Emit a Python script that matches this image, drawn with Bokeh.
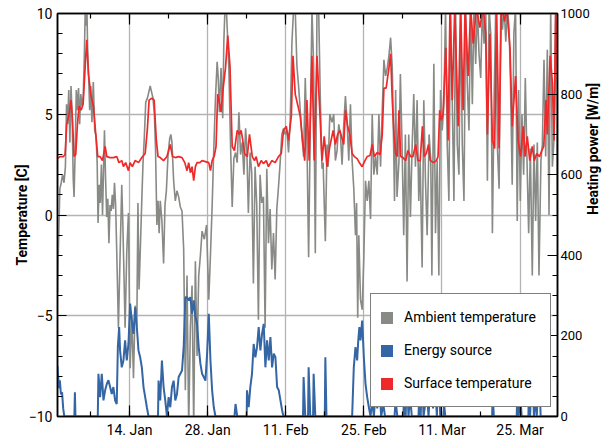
import math
import pandas as pd
from bokeh.plotting import figure
from bokeh.models import (Range1d, LinearAxis, DatetimeAxis, FixedTicker,
                          DatetimeTickFormatter, CustomJSTickFormatter,
                          Legend, LegendItem)
from bokeh.embed import file_html
from bokeh.resources import INLINE

# ---------------- data (days after 1 Jan 2019) ----------------
START = "2019-01-01"
X_START_DAY = 0.08
X_END_DAY = 89.72

AMB_DAY = [
    0.08, 0.3, 0.5, 0.75, 1.0, 1.25, 1.5, 1.7, 1.9, 2.1,
    2.3, 2.5, 2.7, 2.9, 3.05, 3.25, 3.45, 3.65, 3.85, 4.05,
    4.25, 4.5, 4.7, 4.9, 5.05, 5.2, 5.35, 5.5, 5.65, 5.85,
    6.05, 6.25, 6.5, 6.75, 7.0, 7.2, 7.35, 7.55, 7.75, 7.95,
    8.15, 8.5, 8.7, 8.9, 9.1, 9.3, 9.5, 9.7, 9.9, 10.1,
    10.3, 10.5, 10.7, 11.0, 11.3, 11.6, 11.8, 12.0, 12.2, 12.5,
    12.8, 13.1, 13.4, 13.7, 14.0, 14.3, 14.5, 14.7, 14.95, 15.2,
    15.4, 15.65, 15.9, 16.2, 16.45, 16.7, 16.95, 17.2, 17.45, 17.65,
    17.9, 18.1, 18.3, 18.5, 18.8, 19.1, 19.35, 19.6, 19.9, 20.2,
    20.4, 20.6, 20.9, 21.2, 21.5, 21.8, 22.1, 22.4, 22.7, 23.0,
    23.3, 23.6, 23.9, 24.2, 24.5, 24.8, 25.1, 25.4, 25.7, 26.0,
    26.4, 26.8, 27.2, 27.5, 27.8, 28.1, 28.4, 28.7, 28.9, 29.1,
    29.4, 29.7, 29.9, 30.1, 30.35, 30.55, 30.8, 31.1, 31.4, 31.7,
    32.0, 32.3, 32.6, 32.9, 33.2, 33.5, 33.8, 34.0, 34.3, 34.6,
    34.9, 35.2, 35.5, 35.8, 36.1, 36.4, 36.7, 37.0, 37.3, 37.6,
    37.9, 38.2, 38.5, 38.8, 39.1, 39.4, 39.7, 40.0, 40.3, 40.6,
    40.9, 41.2, 41.5, 41.8, 42.1, 42.4, 42.7, 43.0, 43.3, 43.6,
    43.9, 44.2, 44.5, 44.8, 45.1, 45.4, 45.7, 46.0, 46.3, 46.6,
    46.9, 47.2, 47.5, 47.7, 47.9, 48.1, 48.4, 48.6, 48.9, 49.3,
    49.6, 49.9, 50.2, 50.5, 50.8, 51.1, 51.4, 51.7, 52.0, 52.3,
    52.6, 52.9, 53.2, 53.5, 53.7, 53.9, 54.1, 54.4, 54.7, 55.0,
    55.3, 55.6, 55.9, 56.2, 56.5, 56.8, 57.1, 57.4, 57.7, 58.0,
    58.3, 58.6, 58.9, 59.2, 59.5, 59.8, 60.1, 60.35, 60.5, 60.7,
    60.95, 61.3, 61.55, 61.85, 62.15, 62.45, 62.75, 63.05, 63.35, 63.65,
    63.95, 64.25, 64.55, 64.85, 65.1, 65.45, 65.75, 66.05, 66.35, 66.7,
    67.0, 67.2, 67.55, 67.85, 68.15, 68.45, 68.75, 69.05, 69.35, 69.65,
    69.95, 70.25, 70.55, 70.85, 71.15, 71.45, 71.75, 72.05, 72.35, 72.65,
    72.95, 73.25, 73.55, 73.85, 74.15, 74.45, 74.75, 75.05, 75.35, 75.65,
    75.95, 76.25, 76.55, 76.85, 77.15, 77.45, 77.75, 78.05, 78.35, 78.65,
    78.95, 79.25, 79.55, 79.85, 80.15, 80.45, 80.75, 81.05, 81.3, 81.6,
    81.9, 82.2, 82.5, 82.75, 83.05, 83.35, 83.65, 83.95, 84.25, 84.55,
    84.85, 85.2, 85.5, 85.8, 86.1, 86.4, 86.75, 87.0, 87.3, 87.6,
    87.9, 88.2, 88.5, 88.8, 89.1, 89.4, 89.72,
]
AMB_TEMP = [
    -3.8, -1.0, 1.3, 1.6, 2.0, 1.6, 2.4, 5.5, 4.5, 6.2,
    3.6, 6.4, 5.0, 1.8, 0.9, 3.2, 6.2, 5.2, 6.3, 4.5,
    6.0, 5.4, 5.9, 8.0, 10.2, 9.4, 10.3, 8.0, 7.0, 5.2,
    6.4, 4.6, 6.6, 4.2, 3.9, 2.5, -0.4, 1.5, 0.6, 2.5,
    0.0, 4.2, 1.8, -0.1, 0.8, -1.4, 0.5, 0.2, 1.0, 0.3,
    1.6, 0.5, -1.8, -5.6, -2.0, 1.5, -0.5, -3.0, -5.6, -1.8,
    0.1, -7.6, -5.0, -8.1, -4.5, -5.5, 0.6, -3.7, -1.5, 0.8,
    2.5, 3.9, 5.6, 5.8, 6.1, 6.4, 6.1, 5.8, 5.0, 3.3,
    -0.5, 0.7, -0.9, 0.7, -0.3, -2.4, 0.5, 1.2, 3.0, 3.8,
    4.0, 3.6, 1.7, 0.7, 1.2, 0.9, 0.4, 0.2, -1.7, -8.7,
    -3.0, -10.5, -5.6, -3.5, -10.5, -2.3, -7.0, -3.0, -2.0, -0.8,
    -1.2, -0.5, -4.2, -2.0, 0.4, 3.3, 5.8, 7.6, 6.8, 5.1,
    7.3, 4.8, 8.6, 10.2, 10.2, 9.0, 7.3, 3.5, 0.4, 2.8,
    3.1, 2.6, 5.1, 3.0, 3.6, 2.0, 4.3, 3.5, 0.1, 3.1,
    2.1, -3.4, 2.4, 0.5, -5.2, 2.0, 0.6, 0.9, -5.6, 2.3,
    -1.4, 0.3, -2.7, -0.9, -3.2, 0.3, 1.4, 2.6, 4.0, 4.3,
    4.0, 4.2, 3.1, 4.7, 8.5, 10.2, 10.2, 7.4, 6.4, 5.2,
    4.0, 2.9, 6.8, 3.7, -2.1, 4.4, 10.2, 7.4, -1.9, 10.2,
    10.2, 5.7, 2.3, 2.6, 0.6, -1.3, 3.5, 2.4, 5.0, 4.6,
    5.0, 2.7, 3.2, 4.5, 4.0, 2.5, 4.5, 5.9, 4.6, 2.7,
    5.5, 2.7, 1.3, -1.0, 0.6, -5.1, -1.0, -4.2, -4.7, -2.1,
    1.7, 0.7, 1.7, -0.2, 5.0, 2.0, 2.9, 2.0, 5.0, 2.4,
    5.2, 7.7, 6.9, 7.3, 7.9, 8.8, 7.3, 3.3, 0.7, 6.2,
    0.9, 2.7, 7.0, 3.5, -1.0, 4.0, -3.3, 4.0, -0.1, 3.3,
    6.0, 2.4, 5.7, 0.7, 2.7, -2.6, 5.7, 1.7, -1.0, 4.0,
    2.7, -3.0, 7.5, -0.9, 2.7, -3.0, 6.2, 4.2, 5.5, 10.3,
    3.5, 0.7, 10.3, 5.7, 0.7, 10.3, 3.5, 2.0, 10.3, 3.5,
    0.7, 10.3, 6.5, 4.2, 10.3, 5.5, 10.3, 7.5, 10.3, 8.0,
    6.8, 10.3, 8.5, 10.3, 1.7, 10.3, 9.0, -0.9, 5.7, 10.3,
    3.3, 1.3, 10.3, 9.2, 10.3, 8.6, 10.3, 9.2, 6.5, 1.5,
    9.0, 10.3, -0.3, 6.2, 0.7, 5.0, 2.0, 6.8, 2.7, -0.9,
    3.3, -3.0, 3.5, -0.3, 3.6, -3.0, 2.7, 3.5, 7.7, 2.9,
    8.2, 0.0, 10.3, 2.4, 3.8, 10.3, -0.3,
]

SURF_DAY = [
    0.08, 0.5, 1.14, 1.44, 1.73, 2.15, 2.51, 2.75, 3.05, 3.35,
    3.65, 3.95, 4.31, 4.67, 5.03, 5.32, 5.62, 6.1, 6.52, 6.94,
    7.3, 7.72, 8.14, 8.62, 8.92, 9.51, 10.1, 10.7, 11.1, 11.6,
    11.9, 12.3, 12.8, 13.1, 13.5, 14.0, 14.6, 15.2, 15.8, 16.2,
    16.5, 17.0, 17.4, 17.8, 18.1, 18.5, 19.1, 19.7, 20.3, 20.7,
    21.2, 21.8, 22.4, 22.9, 23.3, 23.6, 23.9, 24.2, 24.5, 24.8,
    25.1, 25.6, 26.0, 26.6, 27.2, 27.5, 27.8, 28.2, 28.5, 28.8,
    29.1, 29.4, 29.7, 30.2, 30.6, 31.0, 31.4, 31.8, 32.3, 32.7,
    33.0, 33.3, 33.6, 34.1, 34.5, 35.0, 35.4, 35.7, 36.1, 36.6,
    37.0, 37.5, 37.9, 38.5, 39.1, 39.7, 40.2, 40.6, 41.1, 41.5,
    42.0, 42.3, 42.7, 43.2, 43.6, 44.0, 44.4, 44.8, 45.2, 45.7,
    46.1, 46.6, 47.1, 47.5, 47.9, 48.4, 48.9, 49.5, 49.9, 50.3,
    50.7, 51.0, 51.4, 51.7, 52.1, 52.5, 52.9, 53.3, 53.8, 54.3,
    54.7, 55.2, 55.6, 56.1, 56.5, 56.9, 57.4, 57.9, 58.3, 58.6,
    59.0, 59.5, 59.8, 60.1, 60.4, 60.7, 61.0, 61.3, 61.6, 62.0,
    62.5, 62.9, 63.4, 63.8, 64.3, 64.7, 65.1, 65.5, 65.8, 66.2,
    66.6, 66.9, 67.5, 68.0, 68.3, 68.6, 68.9, 69.2, 69.7, 70.1,
    70.45, 70.85, 71.3, 71.9, 72.35, 72.8, 73.15, 73.7, 74.15, 74.6,
    75.2, 75.8, 76.4, 76.85, 77.15, 77.6, 78.05, 78.45, 78.8, 79.25,
    79.65, 80.25, 80.6, 81.2, 81.6, 82.2, 82.65, 83.1, 83.6, 83.9,
    84.3, 84.75, 85.2, 85.55, 86.0, 86.5, 86.9, 87.25, 87.65, 87.9,
    88.4, 88.8, 89.1, 89.4, 89.72,
]
SURF_TEMP = [
    2.8, 2.9, 2.9, 3.0, 4.5, 5.0, 5.7, 4.8, 2.9, 3.0,
    4.5, 5.4, 5.2, 5.5, 7.3, 8.7, 7.0, 5.9, 5.4, 4.0,
    2.9, 2.9, 2.7, 3.4, 2.9, 2.85, 2.85, 2.9, 2.6, 2.7,
    2.4, 2.6, 2.2, 2.6, 2.4, 2.7, 2.6, 2.85, 3.05, 4.3,
    5.7, 5.8, 5.7, 3.7, 2.9, 2.85, 2.7, 2.9, 3.5, 2.9,
    2.85, 2.9, 2.85, 2.6, 2.2, 2.6, 2.1, 2.4, 1.7, 2.4,
    2.6, 2.6, 2.7, 2.65, 2.6, 2.2, 2.7, 2.95, 3.4, 6.0,
    5.6, 5.1, 6.1, 7.3, 8.9, 7.4, 3.4, 3.2, 4.2, 4.0,
    4.2, 3.7, 3.05, 2.9, 4.0, 2.9, 2.7, 2.9, 2.4, 2.7,
    2.55, 2.7, 2.4, 2.7, 2.6, 2.9, 3.05, 4.2, 4.4, 3.7,
    4.9, 7.9, 6.0, 5.4, 4.9, 3.7, 2.7, 5.7, 2.7, 7.9,
    2.7, 7.9, 5.2, 2.7, 3.9, 2.4, 3.4, 4.2, 3.5, 4.0,
    4.2, 3.9, 3.5, 5.2, 4.4, 4.0, 3.05, 2.9, 2.8, 2.55,
    2.4, 2.7, 2.9, 2.95, 3.5, 2.9, 3.1, 3.0, 4.0, 6.3,
    6.3, 7.3, 8.0, 5.7, 4.0, 3.05, 2.9, 5.2, 2.9, 2.85,
    2.7, 3.2, 2.9, 2.9, 3.5, 2.7, 2.7, 4.4, 2.9, 3.05,
    3.5, 2.7, 2.6, 2.7, 2.9, 5.2, 4.7, 5.0, 8.3, 3.7,
    10.3, 5.7, 10.3, 4.4, 10.3, 5.2, 10.3, 6.9, 10.3, 8.5,
    10.3, 9.3, 10.3, 9.0, 4.0, 9.0, 3.7, 3.3, 10.3, 3.3,
    10.3, 9.6, 10.3, 8.3, 4.4, 6.9, 3.7, 2.9, 4.4, 2.9,
    3.9, 2.7, 3.4, 2.7, 3.05, 2.9, 3.2, 3.4, 5.7, 4.0,
    7.9, 6.6, 3.7, 10.3, 6.6,
]

SRC_DAY = [
    0.08, 0.2, 0.35, 0.5, 0.7, 0.9, 1.1, 1.3, 3.1, 3.2,
    3.3, 7.3, 7.42, 7.72, 8.02, 8.32, 8.62, 8.9, 9.21, 9.51,
    9.81, 10.1, 10.4, 10.7, 10.9, 11.13, 11.3, 11.6, 11.9, 12.2,
    12.5, 12.8, 13.1, 13.4, 13.7, 14.0, 14.3, 14.6, 14.9, 15.2,
    15.5, 15.8, 16.1, 16.4, 18.1, 18.2, 18.5, 18.8, 19.1, 19.4,
    19.7, 20.0, 20.3, 20.6, 20.9, 21.2, 21.5, 21.8, 22.1, 22.4,
    22.7, 23.0, 23.3, 23.6, 23.9, 24.2, 24.5, 24.8, 25.1, 25.4,
    25.7, 26.0, 26.3, 26.6, 26.9, 27.2, 27.5, 27.8, 28.1, 28.4,
    31.8, 32.0, 32.3, 34.0, 34.05, 34.35, 34.65, 34.95, 35.25, 35.55,
    35.85, 36.15, 36.45, 36.75, 37.05, 37.35, 37.65, 37.95, 38.25, 38.55,
    38.85, 39.15, 39.45, 39.75, 40.05, 40.35, 40.6, 44.1, 44.2, 44.5,
    45.0, 45.1, 45.4, 45.9, 46.0, 46.3, 48.0, 48.1, 48.3, 52.9,
    53.0, 53.2, 53.5, 53.8, 54.0, 54.2, 54.4, 54.7, 55.0, 55.3,
    55.6, 55.9, 56.2, 56.5, 56.8, 57.1, 57.4, 57.8, 58.1, 58.5,
    58.8, 60.5, 60.7, 61.0, 62.1, 62.2, 62.5, 62.7, 63.0, 63.3,
    63.6, 64.8, 64.9, 65.2, 65.4, 65.7, 66.3, 66.6, 67.1, 67.4,
    67.8, 68.1, 68.4, 68.7, 69.3, 69.4, 69.6, 78.0, 78.1, 78.3,
    82.4, 82.5, 82.7, 83.1, 83.3, 84.5, 84.6, 84.8, 85.2, 85.5,
    85.8, 86.0, 86.4, 86.7, 89.72,
]
SRC_POWER = [
    125, 100, 70, 90, 55, 60, 20, 0, 0, 60,
    0, 0, 106, 48, 106, 40, 65, 80, 90, 73,
    56, 73, 40, 31, 172, 222, 164, 122, 139, 189,
    139, 180, 280, 238, 205, 271, 222, 164, 147, 122,
    73, 48, 23, 0, 0, 89, 40, 139, 73, 40,
    0, 48, 23, 73, 89, 40, 56, 98, 106, 114,
    172, 296, 296, 288, 296, 255, 288, 247, 230, 172,
    131, 106, 98, 89, 156, 255, 139, 65, 23, 0,
    0, 31, 0, 0, 65, 23, 73, 106, 180, 147,
    172, 222, 164, 205, 230, 122, 189, 139, 197, 122,
    156, 147, 73, 65, 40, 15, 0, 0, 98, 0,
    0, 122, 0, 0, 106, 0, 0, 147, 0, 0,
    40, 122, 172, 139, 189, 222, 189, 238, 147, 81,
    48, 23, 0, 40, 0, 60, 20, 80, 0, 30,
    0, 0, 40, 0, 0, 60, 0, 110, 0, 50,
    0, 0, 40, 0, 120, 0, 60, 0, 130, 20,
    70, 0, 130, 0, 0, 30, 0, 0, 60, 0,
    0, 50, 0, 40, 0, 0, 70, 0, 130, 0,
    50, 0, 130, 0, 0,
]

X_MAJOR_TICKS = ["2019-01-14", "2019-01-28", "2019-02-11",
                 "2019-02-25", "2019-03-11", "2019-03-25"]
X_MINOR_TICKS = ["2019-01-07", "2019-01-14", "2019-01-21", "2019-01-28",
                 "2019-02-04", "2019-02-11", "2019-02-18", "2019-02-25",
                 "2019-03-04", "2019-03-11", "2019-03-18", "2019-03-25"]
TEMP_TICKS = [-10, -5, 0, 5, 10]
TEMP_MINOR = list(range(-10, 11))
POWER_TICKS = [0, 200, 400, 600, 800, 1000]
POWER_MINOR = list(range(0, 1001, 50))

LABELS = ["Ambient temperature", "Energy source", "Surface temperature"]
Y_LABEL_LEFT = "Temperature [C]"
Y_LABEL_RIGHT = "Heating power [W/m]"
GRAY, BLUE, RED = "#888a85", "#3465a4", "#ef2929"
FONT = "Roboto"

# ---------------- helpers ----------------
base = pd.Timestamp(START)


def to_dt(days):
    return base + pd.to_timedelta(pd.Series(days, dtype=float), unit="D")


def ms(dates):
    return [pd.Timestamp(d).value / 1e6 for d in dates]


amb_x = to_dt(AMB_DAY)
surf_x = to_dt(SURF_DAY)
src_x = to_dt(SRC_DAY)

W, H = 613, 440
FL, FR, FT, FB = 57, 557, 13, 416   # frame edges in canvas pixels

p = figure(width=W, height=H, x_axis_type="datetime",
           x_range=Range1d(base + pd.Timedelta(days=X_START_DAY),
                           base + pd.Timedelta(days=X_END_DAY)),
           y_range=Range1d(-10, 10),
           output_backend="svg", toolbar_location=None,
           min_border_left=FL, min_border_right=W - FR,
           min_border_top=FT, min_border_bottom=H - FB)
p.extra_y_ranges = {"power": Range1d(0, 1000)}
p.background_fill_color = "white"
p.border_fill_color = "white"
p.outline_line_color = "black"
p.outline_line_width = 1.5

x_ticker = FixedTicker(ticks=ms(X_MAJOR_TICKS), minor_ticks=ms(X_MINOR_TICKS))
fmt_str = "%d. %b"
x_fmt = DatetimeTickFormatter(microseconds=fmt_str, milliseconds=fmt_str,
                              seconds=fmt_str, minsec=fmt_str, minutes=fmt_str,
                              hourmin=fmt_str, hours=fmt_str, days=fmt_str,
                              months=fmt_str, years=fmt_str)
t_ticker = FixedTicker(ticks=TEMP_TICKS, minor_ticks=TEMP_MINOR)
p_ticker = FixedTicker(ticks=POWER_TICKS, minor_ticks=POWER_MINOR)


def style_axis(ax, major_in, minor_in):
    ax.major_tick_in = major_in
    ax.major_tick_out = 0
    ax.minor_tick_in = minor_in
    ax.minor_tick_out = 0
    ax.axis_line_color = "black"
    ax.axis_line_width = 1.5
    ax.major_tick_line_color = "black"
    ax.minor_tick_line_color = "black"
    ax.major_tick_line_width = 1.2
    ax.minor_tick_line_width = 1.2
    ax.major_label_text_font = FONT
    ax.major_label_text_font_size = "14px"
    ax.major_label_text_color = "black"
    ax.axis_label_text_font = FONT
    ax.axis_label_text_font_size = "14px"
    ax.axis_label_text_font_style = "bold"
    ax.axis_label_text_color = "black"


xa = p.xaxis[0]
xa.ticker = x_ticker
xa.formatter = x_fmt
style_axis(xa, 11, 5)
xa.major_label_standoff = 5

ya = p.yaxis[0]
ya.ticker = t_ticker
style_axis(ya, 9, 5)
ya.axis_label = Y_LABEL_LEFT
ya.major_label_standoff = 5
ya.axis_label_standoff = -4

top = DatetimeAxis(ticker=x_ticker,
                   formatter=CustomJSTickFormatter(code="return ''"))
style_axis(top, 11, 5)
top.major_label_text_font_size = "2px"
top.major_label_standoff = 0
p.add_layout(top, "above")

ra = LinearAxis(y_range_name="power", ticker=p_ticker)
style_axis(ra, 10, 5)
ra.major_label_text_font_size = "13px"
ra.major_label_standoff = 3
ra.axis_label = Y_LABEL_RIGHT
ra.axis_label_standoff = 0
ra.axis_label_orientation = math.pi / 2
p.add_layout(ra, "right")

p.xgrid.ticker = x_ticker
p.ygrid.ticker = t_ticker
for g in (p.xgrid[0], p.ygrid[0]):
    g.grid_line_color = "#b3b3b3"
    g.grid_line_width = 1.3

p.line(amb_x, AMB_TEMP, line_color=GRAY, line_width=1.6)
p.line(src_x, SRC_POWER, y_range_name="power", line_color=BLUE, line_width=2)
p.line(surf_x, SURF_TEMP, line_color=RED, line_width=1.7)

# zero-size rect glyphs on the real data: they only supply square legend keys
key_amb = p.rect(amb_x, AMB_TEMP, width=0, height=0, fill_color=GRAY,
                 line_color=None)
key_src = p.rect(src_x, SRC_POWER, width=0, height=0, fill_color=BLUE,
                 line_color=None, y_range_name="power")
key_surf = p.rect(surf_x, SURF_TEMP, width=0, height=0, fill_color=RED,
                  line_color=None)

legend = Legend(items=[LegendItem(label=l, renderers=[r])
                       for l, r in zip(LABELS, [key_amb, key_src, key_surf])],
                location=(313, 9), orientation="vertical",
                glyph_width=15, glyph_height=15, label_height=30,
                spacing=3, padding=8, margin=0, label_standoff=10,
                label_width=138,
                label_text_font=FONT, label_text_font_size="14px",
                label_text_color="black",
                border_line_color="black", border_line_width=1.2,
                background_fill_color="white", background_fill_alpha=1.0)
p.add_layout(legend, "center")

open("out.html", "w").write(file_html(p, INLINE))
